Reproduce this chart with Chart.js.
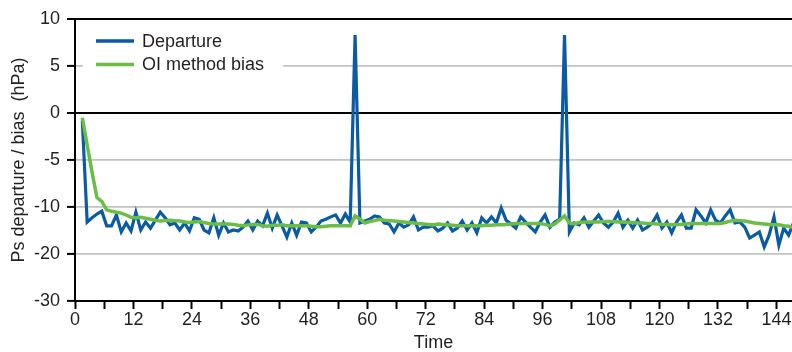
<!DOCTYPE html>
<html>
<head>
<meta charset="utf-8">
<script src="https://cdn.jsdelivr.net/npm/chart.js@4"></script>
<style>
  html, body { margin: 0; padding: 0; background: #fff; }
</style>
</head>
<body>
<canvas id="chart" width="792" height="352"></canvas>
<script>
// values, one per time step (first step at t = 1.5)
const departure = [
  -0.8, -13.2, -12.3, -11.5, -10.9, -14.0, -14.0, -11.7, -15.3, -13.4, -15.1, -11.1,
  -14.9, -13.2, -14.5, -12.8, -11.1, -12.3, -13.8, -13.4, -14.9, -13.4, -15.1, -12.3,
  -12.6, -14.9, -15.5, -12.3, -16.0, -13.4, -15.3, -14.9, -15.1, -14.3, -13.0, -14.9,
  -13.0, -14.0, -11.3, -14.5, -11.7, -14.0, -16.4, -13.4, -16.0, -13.2, -13.4, -15.3,
  -14.3, -13.0, -12.6, -12.1, -11.7, -13.4, -11.5, -13.2, 8.3, -13.4, -13.0, -12.6,
  -11.9, -12.1, -13.4, -13.6, -15.3, -13.4, -14.3, -13.8, -12.1, -14.9, -14.3, -14.3,
  -14.0, -15.1, -14.5, -13.4, -15.1, -14.5, -13.0, -14.9, -13.4, -15.5, -12.3, -13.4,
  -12.1, -13.4, -10.2, -12.8, -13.6, -14.5, -12.1, -13.2, -14.3, -15.3, -13.2, -11.7,
  -14.3, -13.2, -12.6, 8.3, -15.3, -13.4, -13.8, -12.3, -14.3, -13.0, -11.7, -13.4,
  -14.3, -13.2, -11.3, -14.3, -12.8, -14.5, -12.8, -14.9, -14.3, -13.4, -11.7, -14.5,
  -13.2, -15.5, -13.2, -11.7, -14.5, -14.5, -10.6, -11.9, -13.4, -10.6, -12.8, -13.4,
  -11.9, -10.6, -13.4, -13.2, -14.3, -16.6, -16.0, -15.3, -18.5, -16.0, -12.1, -18.1,
  -14.5, -16.0, -13.4
];

const oiBias = [
  -0.5, -3.4, -6.3, -9.0, -9.4, -10.6, -10.9, -11.1, -11.3, -11.7, -12.2, -12.3,
  -12.2, -12.4, -12.6, -12.8, -13.0, -12.9, -12.8, -12.9, -13.0, -13.2, -13.3, -13.2,
  -13.1, -13.3, -13.5, -13.6, -13.6, -13.6, -13.6, -13.7, -13.9, -14.0, -13.8, -13.7,
  -13.7, -14.0, -14.1, -13.9, -13.9, -13.8, -14.0, -14.0, -14.0, -14.0, -14.0, -14.1,
  -14.2, -14.2, -14.1, -14.0, -14.0, -14.0, -14.0, -14.0, -11.9, -12.6, -13.4, -13.1,
  -12.9, -12.6, -12.8, -12.9, -13.0, -13.1, -13.2, -13.3, -13.4, -13.5, -13.6, -13.7,
  -13.8, -13.6, -13.7, -13.8, -13.9, -14.0, -14.0, -14.0, -14.0, -14.0, -14.0, -13.9,
  -13.9, -13.8, -13.8, -13.7, -13.6, -13.5, -13.5, -13.5, -13.5, -13.5, -13.5, -13.7,
  -14.0, -13.6, -12.8, -11.9, -13.4, -13.6, -13.3, -13.2, -13.2, -13.2, -13.2, -13.1,
  -13.1, -13.1, -13.2, -13.2, -13.3, -13.3, -13.4, -13.4, -13.5, -13.5, -13.6, -13.7,
  -13.7, -13.8, -13.7, -13.7, -13.6, -13.5, -13.5, -13.5, -13.5, -13.5, -13.5, -13.5,
  -13.3, -13.0, -12.8, -12.9, -13.0, -13.2, -13.4, -13.5, -13.6, -13.7, -13.8, -13.8,
  -14.0, -14.1, -14.4
];

const firstTime = 1.5;
const times = departure.map((_, i) => firstTime + i);

// the original axis is squeezed below -10: labels are evenly spaced
const yTickLabels = ['-30', '-20', '-10', '-5', '0', '5', '10'];
const toAxis = v => (v >= -10 ? v : -10 + (v + 10) / 2);

const FONT = { family: "'Liberation Sans', Arial, sans-serif", size: 18 };
const TEXT = '#231f20';

const legendBox = {
  id: 'legendBox',
  beforeDatasetsDraw(chart) {
    const { ctx, chartArea } = chart;
    const x0 = chartArea.left;
    ctx.save();
    ctx.fillStyle = '#fff';
    ctx.fillRect(x0 + 8, chartArea.top + 9, 200, 52);
    ctx.font = `${FONT.size}px ${FONT.family}`;
    ctx.textBaseline = 'middle';
    chart.data.datasets.forEach((ds, i) => {
      const y = chartArea.top + 22 + i * 23.5;
      ctx.strokeStyle = ds.borderColor;
      ctx.lineWidth = 3.5;
      ctx.beginPath();
      ctx.moveTo(x0 + 21, y);
      ctx.lineTo(x0 + 59, y);
      ctx.stroke();
      ctx.fillStyle = TEXT;
      ctx.fillText(ds.label, x0 + 67, y + 1);
    });
    ctx.restore();
  }
};

new Chart(document.getElementById('chart'), {
  type: 'line',
  data: {
    datasets: [
      {
        label: 'Departure',
        data: times.map((t, i) => ({ x: t, y: toAxis(departure[i]) })),
        borderColor: '#0a5aa5',
        borderWidth: 3.2,
        pointRadius: 0,
        order: 1,
      },
      {
        label: 'OI method bias',
        data: times.map((t, i) => ({ x: t, y: toAxis(oiBias[i]) })),
        borderColor: '#6abd45',
        borderWidth: 3.5,
        pointRadius: 0,
        order: 0,
      },
    ],
  },
  options: {
    responsive: false,
    animation: false,
    devicePixelRatio: 1,
    layout: { padding: { top: 19, right: 0, bottom: 0, left: 0 } },
    plugins: { legend: { display: false }, tooltip: { enabled: false } },
    scales: {
      x: {
        type: 'linear',
        min: 0,
        max: 147.2,
        ticks: {
          stepSize: 6,
          includeBounds: false,
          autoSkip: false,
          maxRotation: 0,
          padding: 0,
          color: TEXT,
          font: FONT,
          callback: v => (v % 12 === 0 ? String(v) : ''),
        },
        grid: { drawOnChartArea: false, tickLength: 8, tickColor: '#000', tickWidth: 2 },
        border: { color: '#000', width: 2 },
        title: { display: true, text: 'Time', color: TEXT, font: FONT, padding: { top: 0, bottom: -2 } },
        afterFit: s => { s.height = 51; },
      },
      y: {
        type: 'linear',
        min: -20,
        max: 10,
        ticks: {
          stepSize: 5,
          padding: 7,
          color: TEXT,
          font: FONT,
          callback: (v, i) => yTickLabels[i],
        },
        grid: {
          color: c => (c.tick && (c.tick.value === 0 || c.tick.value === 10) ? '#000' : '#c2c2c6'),
          lineWidth: c => (c.tick && (c.tick.value === 0 || c.tick.value === 10) ? 2 : 1.8),
          tickLength: 8,
          tickColor: '#000',
          tickWidth: 2,
        },
        border: { color: '#000', width: 2 },
        title: { display: true, text: 'Ps departure / bias  (hPa)', color: TEXT, font: FONT, padding: { top: 8, bottom: 0 } },
        afterFit: s => { s.width = 75; },
      },
    },
  },
  plugins: [legendBox],
});
</script>
</body>
</html>
